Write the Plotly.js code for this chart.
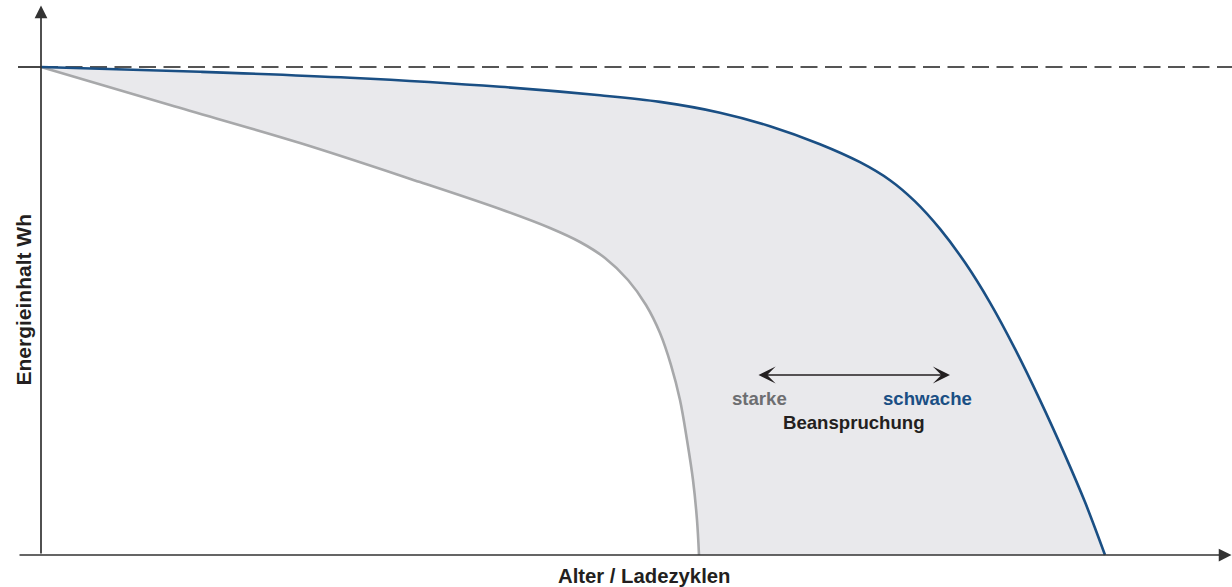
<!DOCTYPE html>
<html>
<head>
<meta charset="utf-8">
<script src="https://cdn.plot.ly/plotly-3.0.1.min.js"></script>
<style>
  html, body { margin: 0; padding: 0; background: #ffffff; }
  #chart { width: 1232px; height: 587px; }
</style>
</head>
<body>
<div id="chart"></div>
<script>
// Alter / Ladezyklen (relative units) and Energieinhalt (% of initial)
const starkeAlter = [0, 12.9, 25.9, 37.9, 45.9, 50.9, 53.9, 56.4, 58.7, 60.5, 61.9, 63.0, 63.9, 64.6, 65.2, 65.6, 65.8];
const starkeEnergie = [100, 92.21, 84.43, 76.43, 70.9, 67.01, 64.14, 60.86, 56.35, 51.23, 45.49, 38.93, 31.76, 23.57, 15.37, 7.17, 0];

const schwacheAlter = [0, 15.9, 30.9, 45.9, 55.9, 61.9, 67.9, 72.9, 77.9, 81.9, 84.9, 87.4, 89.9, 92.4, 94.9, 97.4, 99.9, 102.4, 104.4, 106.4];
const schwacheEnergie = [100, 99.02, 97.79, 95.94, 94.2, 92.85, 90.64, 87.87, 84.18, 80.49, 76.8, 72.46, 66.82, 59.92, 51.72, 42.23, 31.74, 20.47, 10.84, 0];

const referenzEnergie = 100;
const labels = { x: 'Alter / Ladezyklen', y: 'Energieinhalt Wh', starke: 'starke', schwache: 'schwache', mitte: 'Beanspruchung' };

const grayC = '#a7a8aa';
const blueC = '#1a4f84';
const darkC = '#231f20';
const fillC = '#e9e9ec';
const fontFam = '"Liberation Sans", Arial, Helvetica, sans-serif';

const traces = [
  {
    x: starkeAlter, y: starkeEnergie, type: 'scatter', mode: 'lines',
    line: { color: grayC, width: 2.6, shape: 'spline', smoothing: 1 },
    hoverinfo: 'skip'
  },
  {
    x: schwacheAlter, y: schwacheEnergie, type: 'scatter', mode: 'lines',
    line: { color: blueC, width: 2.6, shape: 'spline', smoothing: 1 },
    fill: 'tonexty', fillcolor: fillC,
    hoverinfo: 'skip'
  }
];

const layout = {
  width: 1232, height: 587,
  margin: { l: 0, r: 0, t: 0, b: 0, pad: 0 },
  paper_bgcolor: '#ffffff', plot_bgcolor: '#ffffff',
  showlegend: false,
  xaxis: { range: [-4.1, 119.1], visible: false, fixedrange: true },
  yaxis: { range: [-6.557, 113.73], visible: false, fixedrange: true },
  shapes: [
    { type: 'line', xref: 'x', yref: 'y', x0: 0, x1: 119.1, y0: referenzEnergie, y1: referenzEnergie,
      line: { color: '#555555', width: 2, dash: '17px,7.5px' }, layer: 'below' },
    { type: 'line', xref: 'x', yref: 'y', x0: -2.3, x1: 0, y0: referenzEnergie, y1: referenzEnergie,
      line: { color: '#333333', width: 1.8 }, layer: 'above' }
  ],
  annotations: [
    // y axis with arrow
    { x: 0, y: 112.6, ax: 0, ay: 0, xref: 'x', yref: 'y', axref: 'x', ayref: 'y', text: '',
      showarrow: true, arrowhead: 2, arrowsize: 1.5, arrowwidth: 1.7, arrowcolor: '#333333', standoff: 0 },
    // x axis with arrow
    { x: 119.05, y: 0, ax: -2.3, ay: 0, xref: 'x', yref: 'y', axref: 'x', ayref: 'y', text: '',
      showarrow: true, arrowhead: 2, arrowsize: 1.5, arrowwidth: 1.7, arrowcolor: '#333333', standoff: 0 },
    // double arrow
    { x: 90.9, y: 36.89, ax: 71.6, ay: 36.89, xref: 'x', yref: 'y', axref: 'x', ayref: 'y', text: '',
      showarrow: true, arrowside: 'end+start', arrowhead: 3, startarrowhead: 3, arrowsize: 2.2, startarrowsize: 2.2,
      arrowwidth: 1.3, arrowcolor: darkC, standoff: 0, startstandoff: 0 },
    { x: 71.8, y: 32.1, xref: 'x', yref: 'y', text: labels.starke, showarrow: false,
      xanchor: 'center', yanchor: 'middle', font: { family: fontFam, size: 18.6, color: '#6d6e71', weight: 700 } },
    { x: 88.6, y: 32.1, xref: 'x', yref: 'y', text: labels.schwache, showarrow: false,
      xanchor: 'center', yanchor: 'middle', font: { family: fontFam, size: 18.6, color: blueC, weight: 700 } },
    { x: 81.3, y: 27.1, xref: 'x', yref: 'y', text: labels.mitte, showarrow: false,
      xanchor: 'center', yanchor: 'middle', font: { family: fontFam, size: 18.6, color: darkC, weight: 700 } },
    { x: 60.3, y: -4.3, xref: 'x', yref: 'y', text: labels.x, showarrow: false,
      xanchor: 'center', yanchor: 'middle', font: { family: fontFam, size: 20.3, color: darkC, weight: 700 } },
    { x: -1.75, y: 52.25, xref: 'x', yref: 'y', text: labels.y, showarrow: false, textangle: -90,
      xanchor: 'center', yanchor: 'middle', font: { family: fontFam, size: 21, color: darkC, weight: 700 } }
  ]
};

Plotly.newPlot('chart', traces, layout, { staticPlot: true, displayModeBar: false });
</script>
</body>
</html>
